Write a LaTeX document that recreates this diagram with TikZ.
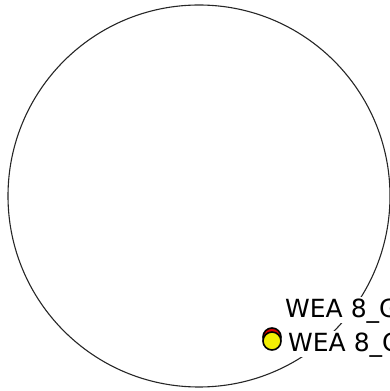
\documentclass[tikz,border=0pt]{standalone}
\usepackage{fontspec}
\setmainfont{DejaVu Sans}
\usetikzlibrary{positioning}
\tikzset{
    etiqueta/.style={
        anchor=base west, fill=white,
        inner sep=2pt,
        text height=19pt, text depth=3pt,
        font=\fontsize{25}{30}\selectfont
    },
    marca/.style={
        circle, draw=black, line width=1.6pt,
        minimum size=18pt, inner sep=0pt
    }
}
\begin{document}
\begin{tikzpicture}[x=1pt, y=1pt]

    \useasboundingbox (0,0) rectangle (390,391);

    \draw[line width=1.1pt, black!85] (199,195) circle (191);

    \node[etiqueta] (wea1) at (283,73) {WEA 8\_G};
    \node[etiqueta] (wea2) at (286,39) {WEA 8\_G};

    \node[marca, fill=red!85!black] (rojo) at (272,54) {};
    \node[marca, fill=yellow!95!green] (amarillo) at (272,50) {};

\end{tikzpicture}
\end{document}
